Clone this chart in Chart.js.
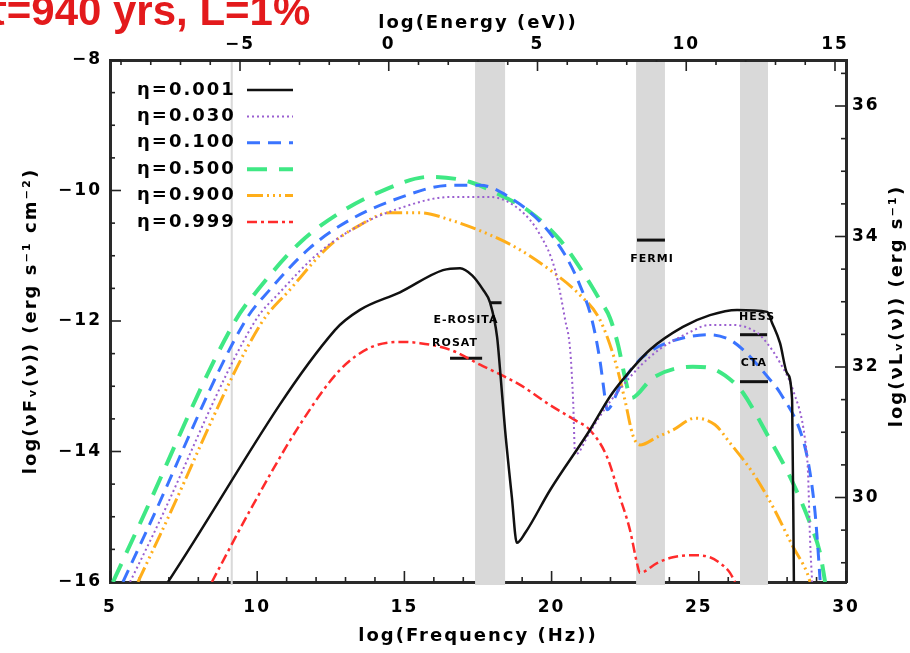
<!DOCTYPE html>
<html>
<head>
<meta charset="utf-8">
<script src="https://cdn.jsdelivr.net/npm/chart.js@4.4.0/dist/chart.umd.min.js"></script>
<style>
  html, body { margin: 0; padding: 0; background: #fff; }
  #wrap { width: 910px; height: 653px; }
</style>
</head>
<body>
<div id="wrap"><canvas id="sed" width="910" height="653"></canvas></div>
<script>
// axis ticks
const freqTicks = [5, 10, 15, 20, 25, 30];
const energyTicks = [-5, 0, 5, 10, 15];
const fluxTicks = [-16, -14, -12, -10, -8];
const lumTicks = [30, 32, 34, 36];

// shaded instrument bands, log(Hz)
const bandLo = [9.10, 17.40, 22.87, 26.40];
const bandHi = [9.17, 18.42, 23.85, 27.35];

// instrument sensitivity marks
const instNames = ['E-ROSITA', 'ROSAT', 'FERMI', 'HESS', 'CTA'];
const instFrom = [17.90, 16.55, 22.90, 26.40, 26.40];
const instTo = [18.30, 17.64, 23.85, 27.32, 27.35];
const instLevel = [-11.72, -12.57, -10.76, -12.21, -12.93];
const instLabelX = [17.09, 16.72, 23.41, 26.98, 26.87];
const instLabelY = [-11.98, -12.34, -11.05, -11.94, -12.64];

// SEDs, log(nu) vs log(nu F_nu)
const etaLabels = ['\u03b7=0.001', '\u03b7=0.030', '\u03b7=0.100', '\u03b7=0.500', '\u03b7=0.900', '\u03b7=0.999'];

const nu001 = [6.97, 12.64, 13.49, 14.85, 16.31, 16.89, 17.30, 17.67, 17.91, 18.15, 18.25, 18.42, 18.65, 18.82, 19.10, 19.95, 21.30, 21.98, 22.49, 23.34, 24.46, 25.38, 26.30, 27.32, 27.49, 27.76, 28.00, 28.17, 28.23];
const f001 = [-16.0, -12.14, -11.83, -11.56, -11.22, -11.19, -11.30, -11.52, -11.72, -12.25, -12.75, -13.67, -14.70, -15.40, -15.25, -14.59, -13.67, -13.16, -12.86, -12.44, -12.09, -11.91, -11.83, -11.86, -12.03, -12.34, -12.80, -13.21, -16.0];

const nu030 = [5.68, 6.46, 9.93, 10.77, 12.13, 13.49, 14.85, 16.55, 17.91, 18.93, 19.61, 20.12, 20.46, 20.63, 20.73, 20.80, 21.30, 21.98, 23.34, 24.70, 25.38, 26.16, 26.98, 27.32, 27.76, 28.20, 28.61, 28.71, 28.78, 28.85];
const f030 = [-16.0, -15.28, -12.0, -11.56, -10.94, -10.53, -10.27, -10.10, -10.10, -10.30, -10.68, -11.22, -11.98, -12.44, -13.21, -14.05, -13.70, -13.24, -12.55, -12.17, -12.06, -12.06, -12.18, -12.34, -12.64, -13.06, -13.82, -14.33, -15.36, -16.0];

const nu100 = [5.44, 6.26, 9.59, 10.43, 11.79, 13.15, 14.85, 16.55, 17.57, 18.59, 19.61, 20.46, 20.96, 21.37, 21.64, 21.85, 21.88, 22.32, 22.77, 23.44, 24.46, 25.38, 26.06, 26.50, 27.42, 27.76, 28.54, 28.78, 28.95, 29.05, 29.12];
const f100 = [-16.0, -15.20, -12.0, -11.52, -10.88, -10.45, -10.11, -9.92, -9.92, -10.11, -10.48, -10.99, -11.45, -11.98, -12.60, -13.29, -13.36, -13.01, -12.70, -12.44, -12.26, -12.21, -12.29, -12.44, -12.90, -13.10, -13.82, -14.33, -14.94, -15.51, -15.97];

const nu500 = [5.10, 5.92, 9.25, 10.10, 11.45, 12.81, 14.17, 15.87, 17.23, 18.25, 19.27, 20.29, 21.13, 21.64, 21.98, 22.26, 22.49, 22.70, 23.44, 24.80, 25.38, 26.16, 26.50, 27.42, 28.10, 28.78, 29.12, 29.29];
const f500 = [-16.0, -15.20, -12.0, -11.48, -10.80, -10.34, -10.02, -9.79, -9.87, -10.07, -10.33, -10.76, -11.30, -11.68, -11.95, -12.37, -12.86, -13.18, -12.87, -12.70, -12.72, -12.93, -13.10, -13.82, -14.39, -15.10, -15.56, -16.0];

const nu900 = [5.95, 6.70, 10.10, 11.11, 12.47, 13.49, 14.51, 15.53, 16.55, 17.91, 18.93, 19.95, 20.96, 21.64, 22.15, 22.49, 22.76, 23.00, 23.58, 24.12, 24.87, 25.55, 26.06, 26.84, 27.52, 28.20, 28.68, 28.78];
const f900 = [-16.0, -15.28, -12.06, -11.52, -10.84, -10.53, -10.34, -10.34, -10.45, -10.68, -10.91, -11.22, -11.60, -11.98, -12.60, -13.21, -13.75, -13.90, -13.78, -13.67, -13.49, -13.59, -13.87, -14.33, -14.85, -15.46, -15.86, -16.0];

const nu999 = [8.46, 9.76, 11.45, 12.81, 13.83, 14.85, 15.53, 16.55, 17.57, 18.93, 19.95, 20.80, 21.30, 21.88, 22.32, 22.66, 22.90, 23.00, 23.58, 24.12, 24.80, 25.38, 25.72, 26.06, 26.23];
const f999 = [-16.0, -14.90, -13.59, -12.75, -12.41, -12.32, -12.34, -12.44, -12.67, -12.98, -13.29, -13.52, -13.67, -14.08, -14.70, -15.20, -15.71, -15.86, -15.71, -15.62, -15.59, -15.62, -15.71, -15.86, -16.0];

const seriesNu = [nu001, nu030, nu100, nu500, nu900, nu999];
const seriesF = [f001, f030, f100, f500, f900, f999];
const seriesColor = ['#111111', '#9a5fd0', '#3a74ff', '#3fe884', '#ffae1a', '#ff2b2b'];
const seriesWidth = [2.5, 2, 3, 4, 3, 2.5];
const seriesDash = [[], [2, 3], [13, 8], [20, 12], [16, 4, 2, 4, 2, 4, 2, 4], [10, 4, 3, 4]];

const toPoints = (xs, ys) => xs.map((v, i) => ({ x: v, y: ys[i] }));

const datasets = seriesNu.map((xs, i) => ({
  label: etaLabels[i],
  data: toPoints(xs, seriesF[i]),
  showLine: true,
  pointRadius: 0,
  borderColor: seriesColor[i],
  borderWidth: seriesWidth[i],
  borderDash: seriesDash[i],
  cubicInterpolationMode: 'monotone',
  isSeries: true
}));

instNames.forEach((name, i) => {
  datasets.push({
    label: name,
    data: [{ x: instFrom[i], y: instLevel[i] }, { x: instTo[i], y: instLevel[i] }],
    showLine: true,
    pointRadius: 0,
    borderColor: '#111',
    borderWidth: 3
  });
});

const tickFont = { family: 'DejaVu Sans', weight: 'bold', size: 17 };
const titleFont = { family: 'DejaVu Sans', weight: 'bold', size: 18 };
const fmt = v => (v < 0 ? '\u2212' + Math.abs(v) : String(v));
const axisBorder = { display: true, width: 3, color: '#2a2a2a' };
const noGrid = { display: false, drawTicks: false };

const decor = {
  id: 'decor',
  beforeDraw(chart) {
    // IDL-style wide lettering for every label on the canvas
    chart.ctx.letterSpacing = '2px';
  },
  beforeDatasetsDraw(chart) {
    const { ctx, chartArea: a } = chart;
    const s = chart.scales;
    ctx.save();
    ctx.strokeStyle = '#222';
    ctx.lineWidth = 1.6;
    const mark = (x0, y0, x1, y1) => {
      ctx.beginPath(); ctx.moveTo(x0, y0); ctx.lineTo(x1, y1); ctx.stroke();
    };
    for (let v = 5; v <= 30; v += 1) {
      const p = s.x.getPixelForValue(v);
      mark(p, a.bottom, p, a.bottom - (v % 5 === 0 ? 11 : 5));
    }
    for (let v = -9; v <= 15; v += 1) {
      const p = s.x2.getPixelForValue(v);
      mark(p, a.top, p, a.top + (v % 5 === 0 ? 11 : 5));
    }
    for (let v = -16; v <= -8; v += 0.5) {
      const p = s.y.getPixelForValue(v);
      mark(a.left, p, a.left + (v % 2 === 0 ? 11 : 5), p);
    }
    for (let v = 29; v <= 36.5; v += 0.5) {
      const p = s.y2.getPixelForValue(v);
      mark(a.right, p, a.right - (v % 2 === 0 ? 11 : 5), p);
    }
    // shaded bands sit over the frame, under the curves
    ctx.fillStyle = '#d9d9d9';
    bandLo.forEach((lo, i) => {
      const l = s.x.getPixelForValue(lo), r = s.x.getPixelForValue(bandHi[i]);
      ctx.fillRect(l, a.top + 2, r - l, a.bottom - a.top + 1);
    });
    ctx.restore();
  },
  afterDatasetsDraw(chart) {
    const { ctx, chartArea: a } = chart;
    const s = chart.scales;
    ctx.save();
    // instrument names
    ctx.fillStyle = '#000';
    ctx.letterSpacing = '1px';
    ctx.font = 'bold 11px "DejaVu Sans"';
    ctx.textAlign = 'center';
    ctx.textBaseline = 'middle';
    instNames.forEach((name, i) => {
      ctx.fillText(name, s.x.getPixelForValue(instLabelX[i]), s.y.getPixelForValue(instLabelY[i]));
    });
    // legend: text then line sample
    ctx.letterSpacing = '2px';
    ctx.font = 'bold 18px "DejaVu Sans"';
    ctx.textAlign = 'left';
    chart.data.datasets.filter(d => d.isSeries).forEach((d, i) => {
      const yy = a.top + 30 + i * 26.4;
      ctx.fillStyle = '#000';
      ctx.fillText(d.label, a.left + 27, yy);
      ctx.strokeStyle = d.borderColor;
      ctx.lineWidth = d.borderWidth;
      ctx.setLineDash(d.borderDash);
      ctx.beginPath();
      ctx.moveTo(a.left + 137, yy);
      ctx.lineTo(a.left + 183, yy);
      ctx.stroke();
    });
    ctx.restore();
  },
  afterDraw(chart) {
    const { ctx, chartArea: a } = chart;
    ctx.save();
    ctx.letterSpacing = '0px';
    ctx.fillStyle = '#e31a1c';
    ctx.font = 'bold 42px "Liberation Sans"';
    ctx.textAlign = 'left';
    ctx.textBaseline = 'alphabetic';
    ctx.fillText('\u03c4=940 yrs, L=1%', -12, 25);
    // right axis title, read bottom to top like the left one
    ctx.letterSpacing = '2px';
    ctx.fillStyle = '#000';
    ctx.font = 'bold 18px "DejaVu Sans"';
    ctx.textAlign = 'center';
    ctx.textBaseline = 'middle';
    ctx.translate(897, (a.top + a.bottom) / 2 - 15);
    ctx.rotate(-Math.PI / 2);
    ctx.fillText('log(\u03bdL\u1d65(\u03bd)) (erg s\u207b\u00b9)', 0, 0);
    ctx.restore();
  }
};

new Chart(document.getElementById('sed'), {
  type: 'scatter',
  data: { datasets },
  options: {
    responsive: false,
    devicePixelRatio: 1,
    animation: false,
    layout: { padding: 0 },
    plugins: { legend: { display: false }, tooltip: { enabled: false } },
    scales: {
      x: {
        type: 'linear', position: 'bottom', min: 5, max: 30,
        afterBuildTicks: sc => { sc.ticks = freqTicks.map(value => ({ value })); },
        afterFit: sc => { sc.height = 71; },
        grid: noGrid,
        border: axisBorder,
        ticks: { font: tickFont, color: '#000', padding: 15, maxRotation: 0, callback: fmt },
        title: { display: true, text: 'log(Frequency (Hz))', font: titleFont, color: '#000', padding: { top: 0, bottom: 6 } }
      },
      x2: {
        type: 'linear', position: 'top', min: -9.37, max: 15.37,
        afterBuildTicks: sc => { sc.ticks = energyTicks.map(value => ({ value })); },
        afterFit: sc => { sc.height = 60; },
        grid: noGrid,
        border: axisBorder,
        ticks: { font: tickFont, color: '#000', padding: 5, maxRotation: 0, callback: fmt },
        title: { display: true, text: 'log(Energy (eV))', font: titleFont, color: '#000', padding: { top: 13, bottom: 0 } }
      },
      y: {
        type: 'linear', position: 'left', min: -16, max: -8,
        afterBuildTicks: sc => { sc.ticks = fluxTicks.map(value => ({ value })); },
        afterFit: sc => { sc.width = 110; },
        grid: noGrid,
        border: axisBorder,
        ticks: { font: tickFont, color: '#000', padding: 8, callback: fmt },
        title: { display: true, text: 'log(\u03bdF\u1d65(\u03bd)) (erg s\u207b\u00b9 cm\u207b\u00b2)', font: titleFont, color: '#000', padding: { top: 21, bottom: 0 } }
      },
      y2: {
        type: 'linear', position: 'right', min: 28.705, max: 36.705,
        afterBuildTicks: sc => { sc.ticks = lumTicks.map(value => ({ value })); },
        afterFit: sc => { sc.width = 64; },
        grid: noGrid,
        border: axisBorder,
        ticks: { font: tickFont, color: '#000', padding: 6, callback: fmt }
      }
    }
  },
  plugins: [decor]
});
</script>
</body>
</html>
